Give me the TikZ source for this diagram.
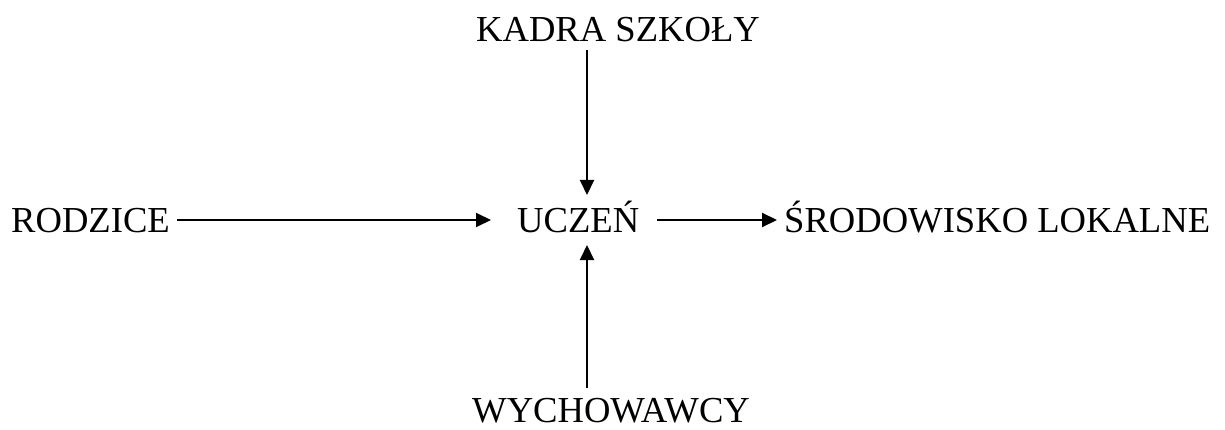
\documentclass[tikz,border=0pt]{standalone}
\usepackage{fontspec}
\setmainfont{Liberation Serif}
\usetikzlibrary{arrows.meta}

\begin{document}
\begin{tikzpicture}[x=1pt,y=-1pt,
	label/.style={inner sep=0pt,anchor=base west,font=\fontsize{36.6}{40}\selectfont},
	arr/.style={-{Triangle[length=15pt,width=14pt]},line width=2pt}]
	\useasboundingbox (0,0) rectangle (1225,430);
	\coordinate (mid) at (587,220);

	\node[label] (kadra) at (476,42) {KADRA SZKOŁY};
	\node[label] (rodz) at (11,233) {RODZICE};
	\node[label] (ucz) at (517,233) {UCZEŃ};
	\node[label] (srod) at (784,233) {ŚRODOWISKO LOKALNE};
	\node[label] (wych) at (472,422) {WYCHOWAWCY};

	\path [arr] ([yshift=-8pt]kadra.base -| mid) edge ([yshift=38pt]ucz.base -| mid);
	\path [arr] ([yshift=34pt]wych.base -| mid) edge ([yshift=-12pt]ucz.base -| mid);
	\path [arr] ([xshift=7pt]rodz.east |- mid) edge ([xshift=-26pt]ucz.west |- mid);
	\path [arr] ([xshift=18pt]ucz.east |- mid) edge ([xshift=-7pt]srod.west |- mid);
\end{tikzpicture}
\end{document}
